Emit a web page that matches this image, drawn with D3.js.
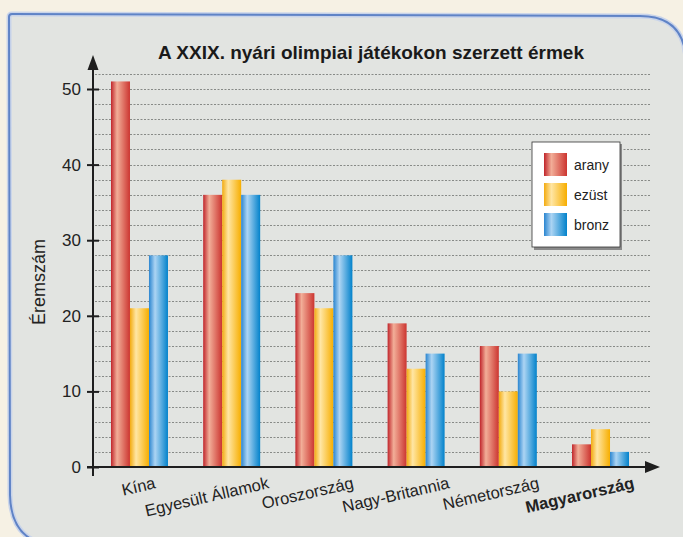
<!DOCTYPE html>
<html>
<head>
<meta charset="utf-8">
<script src="https://cdn.jsdelivr.net/npm/d3@7"></script>
<style>
  body { margin: 0; background: #f6f1e4; }
  svg { display: block; font-family: "Liberation Sans", Arial, sans-serif; }
</style>
</head>
<body>
<div class="chart-container"></div>
<script>
// data
const countries = ["Kína", "Egyesült Államok", "Oroszország", "Nagy-Britannia", "Németország", "Magyarország"];
const medalTypes = ["arany", "ezüst", "bronz"];
const arany = [51, 36, 23, 19, 16, 3];
const ezust = [21, 38, 21, 13, 10, 5];
const bronz = [28, 36, 28, 15, 15, 2];
const yTicks = [0, 10, 20, 30, 40, 50];
const gridValues = d3.range(2, 54, 2);

const title = "A XXIX. nyári olimpiai játékokon szerzett érmek";
const yLabel = "Éremszám";

// gradient stops per medal (edge, highlight, edge)
const medalColors = {
  "arany": ["#c0242a", "#f2ae98", "#cc3530"],
  "ezüst": ["#f3ab10", "#ffe6a4", "#f7ae00"],
  "bronz": ["#2a85d0", "#acd4f3", "#0282cb"]
};

const W = 683, H = 537;

const svg = d3.select(".chart-container")
  .append("svg")
  .attr("width", W)
  .attr("height", H);

const defs = svg.append("defs");
medalTypes.forEach((m, i) => {
  const g = defs.append("linearGradient")
    .attr("id", "grad-" + i)
    .attr("x1", "0%").attr("x2", "100%").attr("y1", "0%").attr("y2", "0%");
  const c = medalColors[m];
  g.append("stop").attr("offset", "0%").attr("stop-color", c[0]);
  g.append("stop").attr("offset", "32%").attr("stop-color", c[1]);
  g.append("stop").attr("offset", "100%").attr("stop-color", c[2]);
});

// panel with blue border
const panel = d3.path();
panel.moveTo(9, 17);
panel.quadraticCurveTo(9, 14, 12, 14);
panel.lineTo(640, 16);
panel.quadraticCurveTo(684, 16, 686, 60);
panel.lineTo(688, 540);
panel.lineTo(50, 545);
panel.quadraticCurveTo(11, 540, 10, 495);
panel.closePath();

svg.append("path")
  .attr("d", panel.toString())
  .attr("fill", "#e2e4e1")
  .attr("stroke", "#c9d4ea")
  .attr("stroke-width", 5);
svg.append("path")
  .attr("d", panel.toString())
  .attr("fill", "none")
  .attr("stroke", "#5f83c6")
  .attr("stroke-width", 2);

// scales
const x = d3.scaleBand()
  .domain(countries)
  .range([93, 647])
  .paddingInner(0.382)
  .paddingOuter(0.195);

const xSub = d3.scaleBand()
  .domain(medalTypes)
  .range([0, x.bandwidth()]);

const y = d3.scaleLinear()
  .domain([0, 50])
  .range([467, 89]);

// grid
svg.append("g")
  .selectAll("line")
  .data(gridValues)
  .enter()
  .append("line")
  .attr("x1", 95)
  .attr("x2", 651)
  .attr("y1", d => Math.round(y(d)) + 0.5)
  .attr("y2", d => Math.round(y(d)) + 0.5)
  .attr("stroke", "#7d7f7d")
  .attr("stroke-width", 0.9)
  .attr("stroke-dasharray", "2,1.5");

// bars
const series = [arany, ezust, bronz];
const barData = [];
countries.forEach((c, ci) => {
  medalTypes.forEach((m, mi) => {
    barData.push({ country: c, medal: m, mi, value: series[mi][ci] });
  });
});

svg.append("g")
  .selectAll("rect")
  .data(barData)
  .enter()
  .append("rect")
  .attr("x", d => x(d.country) + xSub(d.medal))
  .attr("y", d => y(d.value))
  .attr("width", xSub.bandwidth())
  .attr("height", d => y(0) - y(d.value))
  .attr("fill", d => "url(#grad-" + d.mi + ")");

// axes
const axisColor = "#1e1e1e";
svg.append("line")
  .attr("x1", 93).attr("x2", 93)
  .attr("y1", 66).attr("y2", 476)
  .attr("stroke", axisColor).attr("stroke-width", 2);
svg.append("path")
  .attr("d", "M93,55 L87.5,70 L98.5,70 Z")
  .attr("fill", axisColor);

svg.append("line")
  .attr("x1", 87).attr("x2", 648)
  .attr("y1", y(0)).attr("y2", y(0))
  .attr("stroke", axisColor).attr("stroke-width", 2);
svg.append("path")
  .attr("d", `M660,${y(0)} L645,${y(0) - 6} L645,${y(0) + 6} Z`)
  .attr("fill", axisColor);

const yAxis = svg.append("g")
  .attr("transform", "translate(93,0)")
  .call(d3.axisLeft(y).tickValues(yTicks).tickSize(6).tickPadding(6));
yAxis.select(".domain").remove();
yAxis.selectAll(".tick line")
  .attr("x1", -6).attr("x2", 6)
  .attr("stroke", axisColor).attr("stroke-width", 2);
yAxis.selectAll(".tick text")
  .attr("fill", "#222")
  .style("font-size", "17px")
  .style("font-family", "'Liberation Sans', Arial, sans-serif");

// x labels, rotated
svg.append("g")
  .selectAll("text")
  .data(countries)
  .enter()
  .append("text")
  .text(d => d)
  .style("font-size", "16.5px")
  .style("font-weight", d => d === "Magyarország" ? "bold" : "normal")
  .attr("fill", "#222")
  .attr("text-anchor", "end")
  .attr("transform", function (d) {
    const L = this.getComputedTextLength();
    const cx = x(d) + x.bandwidth() / 2;
    return "translate(" + (cx + 9 + 0.23 * L) + ",488) rotate(-13)";
  });

// y label
svg.append("text")
  .attr("transform", "translate(45,282) rotate(-90)")
  .attr("text-anchor", "middle")
  .attr("fill", "#222")
  .style("font-size", "18px")
  .text(yLabel);

// title
svg.append("text")
  .attr("x", 371)
  .attr("y", 59)
  .attr("text-anchor", "middle")
  .attr("fill", "#1a1a1a")
  .style("font-size", "19px")
  .style("font-weight", "bold")
  .text(title);

// legend
const legend = svg.append("g").attr("transform", "translate(532,142)");
legend.append("rect")
  .attr("x", 2).attr("y", 2)
  .attr("width", 88).attr("height", 106)
  .attr("fill", "#8a8a8a");
legend.append("rect")
  .attr("width", 88).attr("height", 105)
  .attr("fill", "#ffffff")
  .attr("stroke", "#333").attr("stroke-width", 0.8);

const li = legend.selectAll(".item")
  .data(medalTypes)
  .enter()
  .append("g")
  .attr("transform", (d, i) => "translate(12," + (11 + i * 30) + ")");
li.append("rect")
  .attr("width", 23).attr("height", 23)
  .attr("fill", (d, i) => "url(#grad-" + i + ")");
li.append("text")
  .attr("x", 30).attr("y", 16.5)
  .attr("fill", "#222")
  .style("font-size", "14px")
  .text(d => d);
</script>
</body>
</html>
